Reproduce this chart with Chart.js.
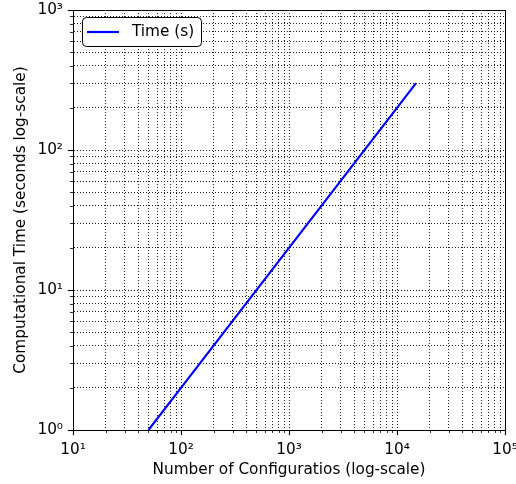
<!DOCTYPE html>
<html><head><meta charset="utf-8">
<script src="https://cdn.jsdelivr.net/npm/chart.js@4"></script>
<style>html,body{margin:0;padding:0;background:#fff}</style>
</head><body>
<canvas id="c" width="516" height="484"></canvas>
<script>
// ---- data ----
const configurations = [50, 100, 1000, 10000, 15000];
const timeSeconds = [1, 2, 20, 200, 300];
const seriesLabel = 'Time (s)';
const xMajorTicks = [10, 100, 1000, 10000, 100000];
const yMajorTicks = [1, 10, 100, 1000];
const xTickLabels = ['10¹', '10²', '10³', '10⁴', '10⁵'];
const yTickLabels = ['10⁰', '10¹', '10²', '10³'];
const xTitle = 'Number of Configuratios (log-scale)';
const yTitle = 'Computational Time (seconds log-scale)';

function withMinor(majors) {
  const out = [];
  for (let i = 0; i < majors.length - 1; i++) {
    for (let k = 1; k <= 9; k++) out.push(majors[i] * k);
  }
  out.push(majors[majors.length - 1]);
  return out;
}
const xAllTicks = withMinor(xMajorTicks);
const yAllTicks = withMinor(yMajorTicks);

const FONT = 'DejaVu Sans';
const FS = 15.3;

const frameAndTicks = {
  id: 'frameAndTicks',
  afterDraw(chart) {
    const {ctx, chartArea: a, scales: {x, y}} = chart;
    ctx.save();
    ctx.strokeStyle = '#000';
    ctx.lineWidth = 1;
    ctx.setLineDash([]);
    ctx.strokeRect(Math.round(a.left) + 0.5, Math.round(a.top) + 0.5,
      Math.round(a.right - a.left), Math.round(a.bottom - a.top));
    xAllTicks.forEach(v => {
      const major = xMajorTicks.includes(v);
      const px = Math.round(x.getPixelForValue(v)) + 0.5;
      ctx.lineWidth = major ? 1.1 : 0.8;
      ctx.beginPath();
      ctx.moveTo(px, a.bottom);
      ctx.lineTo(px, a.bottom + (major ? 5.2 : 3));
      ctx.stroke();
    });
    yAllTicks.forEach(v => {
      const major = yMajorTicks.includes(v);
      const py = Math.round(y.getPixelForValue(v)) + 0.5;
      ctx.lineWidth = major ? 1.1 : 0.8;
      ctx.beginPath();
      ctx.moveTo(a.left, py);
      ctx.lineTo(a.left - (major ? 5.2 : 3), py);
      ctx.stroke();
    });
    // legend
    const ds = chart.data.datasets[0];
    const bx = 82.5, by = 17.5, bw = 119, bh = 29, r = 4;
    ctx.beginPath();
    ctx.moveTo(bx + r, by);
    ctx.lineTo(bx + bw - r, by);
    ctx.arcTo(bx + bw, by, bx + bw, by + r, r);
    ctx.lineTo(bx + bw, by + bh - r);
    ctx.arcTo(bx + bw, by + bh, bx + bw - r, by + bh, r);
    ctx.lineTo(bx + r, by + bh);
    ctx.arcTo(bx, by + bh, bx, by + bh - r, r);
    ctx.lineTo(bx, by + r);
    ctx.arcTo(bx, by, bx + r, by, r);
    ctx.closePath();
    ctx.fillStyle = '#fff';
    ctx.fill();
    ctx.lineWidth = 1;
    ctx.strokeStyle = '#000';
    ctx.stroke();
    ctx.beginPath();
    ctx.strokeStyle = ds.borderColor;
    ctx.lineWidth = ds.borderWidth;
    ctx.moveTo(87, 32);
    ctx.lineTo(119, 32);
    ctx.stroke();
    ctx.fillStyle = '#000';
    ctx.font = FS + 'px "' + FONT + '"';
    ctx.textBaseline = 'middle';
    ctx.textAlign = 'left';
    ctx.fillText(ds.label, 132, 32);
    ctx.restore();
  }
};

function fixBox(w, h) {
  return (s) => {
    if (w !== null) s.width = w;
    if (h !== null) s.height = h;
    s.paddingLeft = 0; s.paddingRight = 0; s.paddingTop = 0; s.paddingBottom = 0;
  };
}

new Chart(document.getElementById('c'), {
  type: 'line',
  data: {
    datasets: [{
      label: seriesLabel,
      data: configurations.map((v, i) => ({x: v, y: timeSeconds[i]})),
      borderColor: '#0000ff',
      borderWidth: 2.2,
      pointRadius: 0,
      fill: false,
      tension: 0
    }]
  },
  options: {
    responsive: false,
    animation: false,
    layout: {padding: {left: 0, right: 11, top: 10, bottom: 0}},
    plugins: {legend: {display: false}, tooltip: {enabled: false}},
    scales: {
      x: {
        type: 'logarithmic', min: 10, max: 100000,
        afterBuildTicks: (s) => { s.ticks = xAllTicks.map(v => ({value: v, major: xMajorTicks.includes(v)})); },
        afterFit: fixBox(null, 54),
        ticks: {
          autoSkip: false, maxRotation: 0, padding: 11, color: '#000',
          font: {family: FONT, size: FS},
          callback: (v) => { const i = xMajorTicks.indexOf(v); return i >= 0 ? xTickLabels[i] : ''; }
        },
        grid: {color: '#222', lineWidth: 1, drawTicks: false},
        border: {display: true, color: '#000', width: 1, dash: [1, 2]},
        title: {display: true, text: xTitle, color: '#000', font: {family: FONT, size: FS}, padding: {top: 0, bottom: 5}}
      },
      y: {
        type: 'logarithmic', min: 1, max: 1000,
        afterBuildTicks: (s) => { s.ticks = yAllTicks.map(v => ({value: v, major: yMajorTicks.includes(v)})); },
        afterFit: fixBox(73, null),
        ticks: {
          autoSkip: false, padding: 10, color: '#000',
          font: {family: FONT, size: FS},
          callback: (v) => { const i = yMajorTicks.indexOf(v); return i >= 0 ? yTickLabels[i] : ''; }
        },
        grid: {color: '#222', lineWidth: 1, drawTicks: false},
        border: {display: true, color: '#000', width: 1, dash: [1, 2]},
        title: {display: true, text: yTitle, color: '#000', font: {family: FONT, size: FS}, padding: {top: 12, bottom: 0}}
      }
    }
  },
  plugins: [frameAndTicks]
});
</script>
</body></html>
